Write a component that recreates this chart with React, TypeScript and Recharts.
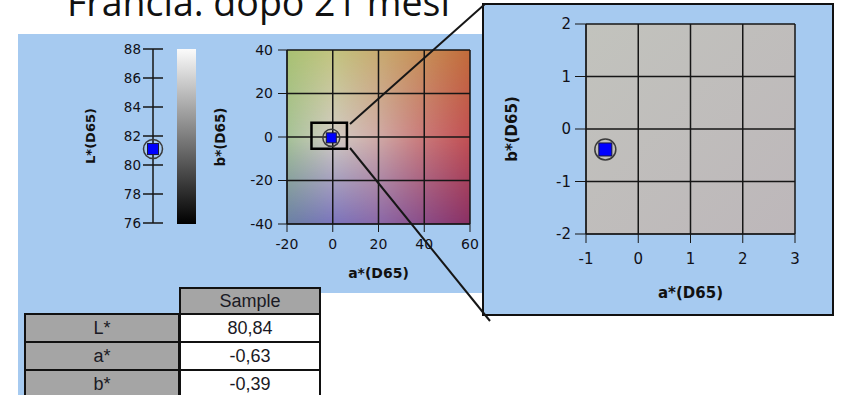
import React from 'react'
import {
  ScatterChart, Scatter, XAxis, YAxis, CartesianGrid,
  ReferenceLine, ReferenceArea,
} from 'recharts'

const TITLE = 'Francia: dopo 21 mesi'

// L* scale
const L_TICKS = [76, 78, 80, 82, 84, 86, 88]
const L_POINT = [{ x: 0.5, l: 81.1 }]

// a*b* plane
const AB_A_TICKS = [-20, 0, 20, 40, 60]
const AB_B_TICKS = [-40, -20, 0, 20, 40]
const AB_POINT = [{ a: -0.63, b: -0.39 }]
const ZOOM_BOX = { a1: -9.3, a2: 6.2, b1: -5.4, b2: 6.6 }

// detail view
const DET_A_TICKS = [-1, 0, 1, 2, 3]
const DET_B_TICKS = [-2, -1, 0, 1, 2]

// table
const TABLE_HEADER = 'Sample'
const TABLE_LABELS = ['L*', 'a*', 'b*']
const TABLE_VALUES = ['80,84', '-0,63', '-0,39']

const PANEL_BLUE = '#a6caf0'
const CELL_GREY = '#a5a5a5'
const INK = '#161616'

const tick = (size: number) => ({ fontSize: size, fill: '#111118', fontFamily: 'DejaVu Sans' })
const axisTitle = (size: number) => ({
  fontSize: size, fontWeight: 700, fill: '#111', fontFamily: 'DejaVu Sans', textAnchor: 'middle' as const,
})

const marker = (r: number, s: number) => (props: any) => {
  const { cx, cy } = props
  return (
    <g>
      <circle cx={cx} cy={cy} r={r} fill="none" stroke="#3a3a3a" strokeWidth={1.5} />
      <rect x={cx - s / 2} y={cy - s / 2} width={s} height={s} fill="#0000ff" stroke="#1a1a3a" strokeWidth={1} />
    </g>
  )
}

function Gradients() {
  return (
    <svg width={0} height={0} style={{ position: 'absolute' }}>
      <defs>
        <linearGradient id="abTop" x1="0" y1="0" x2="1" y2="0">
          <stop offset="0" stopColor="#a8c172" />
          <stop offset="0.25" stopColor="#c2c47f" />
          <stop offset="0.5" stopColor="#c8ab70" />
          <stop offset="0.75" stopColor="#c68e56" />
          <stop offset="1" stopColor="#c26b3a" />
        </linearGradient>
        <linearGradient id="abMid" x1="0" y1="0" x2="1" y2="0">
          <stop offset="0" stopColor="#a6c296" />
          <stop offset="0.25" stopColor="#d2ccc4" />
          <stop offset="0.5" stopColor="#d0aaa6" />
          <stop offset="0.75" stopColor="#ca7878" />
          <stop offset="1" stopColor="#c24f52" />
        </linearGradient>
        <linearGradient id="abBot" x1="0" y1="0" x2="1" y2="0">
          <stop offset="0" stopColor="#6a80a4" />
          <stop offset="0.25" stopColor="#7a74bc" />
          <stop offset="0.5" stopColor="#8a68a8" />
          <stop offset="0.75" stopColor="#8a4c88" />
          <stop offset="1" stopColor="#8a3064" />
        </linearGradient>
        <linearGradient id="fadeTop" x1="0" y1="0" x2="0" y2="1">
          <stop offset="0" stopColor="#fff" stopOpacity={1} />
          <stop offset="0.5" stopColor="#fff" stopOpacity={0} />
        </linearGradient>
        <linearGradient id="fadeBot" x1="0" y1="0" x2="0" y2="1">
          <stop offset="0.5" stopColor="#fff" stopOpacity={0} />
          <stop offset="1" stopColor="#fff" stopOpacity={1} />
        </linearGradient>
        <mask id="mTop" maskUnits="objectBoundingBox" maskContentUnits="objectBoundingBox" x="0" y="0" width="1" height="1">
          <rect width="1" height="1" fill="url(#fadeTop)" />
        </mask>
        <mask id="mBot" maskUnits="objectBoundingBox" maskContentUnits="objectBoundingBox" x="0" y="0" width="1" height="1">
          <rect width="1" height="1" fill="url(#fadeBot)" />
        </mask>
        <pattern id="abPlane" patternUnits="objectBoundingBox" patternContentUnits="objectBoundingBox" width="1" height="1">
          <rect width="1" height="1" fill="url(#abMid)" />
          <rect width="1" height="1" fill="url(#abTop)" mask="url(#mTop)" />
          <rect width="1" height="1" fill="url(#abBot)" mask="url(#mBot)" />
        </pattern>
        <linearGradient id="detBg" x1="0" y1="0" x2="1" y2="1">
          <stop offset="0" stopColor="#c2c3bd" />
          <stop offset="1" stopColor="#bdb7ba" />
        </linearGradient>
      </defs>
    </svg>
  )
}

function Cell({ left, top, width, height, bg, children }: {
  left: number; top: number; width: number; height: number; bg: string; children: React.ReactNode
}) {
  return (
    <div style={{
      position: 'absolute', left, top, width, height, boxSizing: 'border-box',
      border: '2px solid #111', background: bg, display: 'flex',
      alignItems: 'center', justifyContent: 'center',
      fontFamily: 'Liberation Sans', fontSize: 18, color: '#1a1a24',
    }}>
      {children}
    </div>
  )
}

export default function App() {
  return (
    <div style={{ position: 'absolute', left: 0, top: 0, width: 841, height: 395, background: '#fff', overflow: 'hidden', fontFamily: 'DejaVu Sans' }}>
      <Gradients />

      {/* blue backdrop */}
      <div style={{ position: 'absolute', left: 18, top: 34, width: 472, height: 259, background: PANEL_BLUE }} />
      <div style={{ position: 'absolute', left: 18, top: 293, width: 162, height: 102, background: PANEL_BLUE }} />

      {/* L* scale */}
      <div style={{ position: 'absolute', left: 60, top: 40 }}>
        <ScatterChart width={110} height={203} margin={{ top: 9, right: 7, bottom: 20, left: 25 }}>
          <CartesianGrid vertical={false} stroke={INK} strokeWidth={1.5} />
          <XAxis type="number" dataKey="x" domain={[0, 1]} hide />
          <YAxis
            type="number" dataKey="l" domain={[76, 88]} ticks={L_TICKS} width={58}
            axisLine={false} tickLine={false} tickSize={0} tickMargin={2} tick={tick(13.5)}
            label={{ value: 'L*(D65)', angle: -90, position: 'insideLeft', offset: 5, style: axisTitle(13) }}
          />
          <ReferenceLine x={0.5} stroke={INK} strokeWidth={1.5} />
          <Scatter data={L_POINT} shape={marker(9.5, 11)} isAnimationActive={false} />
        </ScatterChart>
      </div>

      {/* lightness bar */}
      <div style={{ position: 'absolute', left: 177, top: 49, width: 19, height: 175, background: 'linear-gradient(to bottom, #fbfbfb, #000)' }} />

      {/* a*b* plane */}
      <div style={{ position: 'absolute', left: 200, top: 40 }}>
        <ScatterChart width={280} height={246} margin={{ top: 10, right: 10, bottom: 8, left: 15 }}>
          <CartesianGrid fill="url(#abPlane)" stroke={INK} strokeWidth={1.5} />
          <XAxis
            type="number" dataKey="a" domain={[-20, 60]} ticks={AB_A_TICKS} height={54}
            stroke={INK} tickSize={8} tickMargin={7} tick={tick(14)}
            label={{ value: 'a*(D65)', position: 'insideBottom', offset: 0, style: axisTitle(14) }}
          />
          <YAxis
            type="number" dataKey="b" domain={[-40, 40]} ticks={AB_B_TICKS} width={72}
            stroke={INK} tickSize={9} tickMargin={5} tick={tick(14)}
            label={{ value: 'b*(D65)', angle: -90, position: 'insideLeft', offset: 5, style: axisTitle(13.5) }}
          />
          <ReferenceArea
            x1={ZOOM_BOX.a1} x2={ZOOM_BOX.a2} y1={ZOOM_BOX.b1} y2={ZOOM_BOX.b2}
            fill="none" fillOpacity={0} stroke="#000" strokeWidth={2.5}
          />
          <Scatter data={AB_POINT} shape={marker(8.5, 10)} isAnimationActive={false} />
        </ScatterChart>
      </div>

      {/* detail panel */}
      <div style={{ position: 'absolute', left: 482, top: 3, width: 352, height: 313, boxSizing: 'border-box', border: '2px solid #111', background: PANEL_BLUE }} />
      <div style={{ position: 'absolute', left: 482, top: 3 }}>
        <ScatterChart width={352} height={313} margin={{ top: 21, right: 39, bottom: 18, left: 25 }}>
          <CartesianGrid fill="url(#detBg)" stroke={INK} strokeWidth={1.5} />
          <XAxis
            type="number" dataKey="a" domain={[-1, 3]} ticks={DET_A_TICKS} height={64}
            stroke={INK} tickSize={9} tickMargin={10} tick={tick(15)}
            label={{ value: 'a*(D65)', position: 'insideBottom', offset: 0, style: axisTitle(15) }}
          />
          <YAxis
            type="number" dataKey="b" domain={[-2, 2]} ticks={DET_B_TICKS} width={79}
            stroke={INK} tickSize={11} tickMargin={4} tick={tick(15)}
            label={{ value: 'b*(D65)', angle: -90, position: 'insideLeft', offset: 5, style: axisTitle(15) }}
          />
          <Scatter data={AB_POINT} shape={marker(10.5, 13)} isAnimationActive={false} />
        </ScatterChart>
      </div>

      {/* table */}
      <Cell left={179} top={287} width={142} height={28} bg={CELL_GREY}>{TABLE_HEADER}</Cell>
      {TABLE_LABELS.map((lab, i) => (
        <React.Fragment key={lab}>
          <Cell left={24} top={313 + i * 28} width={156} height={30} bg={CELL_GREY}>{lab}</Cell>
          <Cell left={179} top={313 + i * 28} width={142} height={30} bg="#fff">{TABLE_VALUES[i]}</Cell>
        </React.Fragment>
      ))}

      {/* title and zoom connectors */}
      <svg width={841} height={395} style={{ position: 'absolute', left: 0, top: 0, pointerEvents: 'none' }}>
        <text x={67} y={16} fontFamily="Open Sans" fontSize={37.5} fill="#111">{TITLE}</text>
        <line x1={350} y1={124} x2={485} y2={4} stroke={INK} strokeWidth={2} />
        <line x1={350} y1={148} x2={490} y2={321} stroke={INK} strokeWidth={2} />
      </svg>
    </div>
  )
}
